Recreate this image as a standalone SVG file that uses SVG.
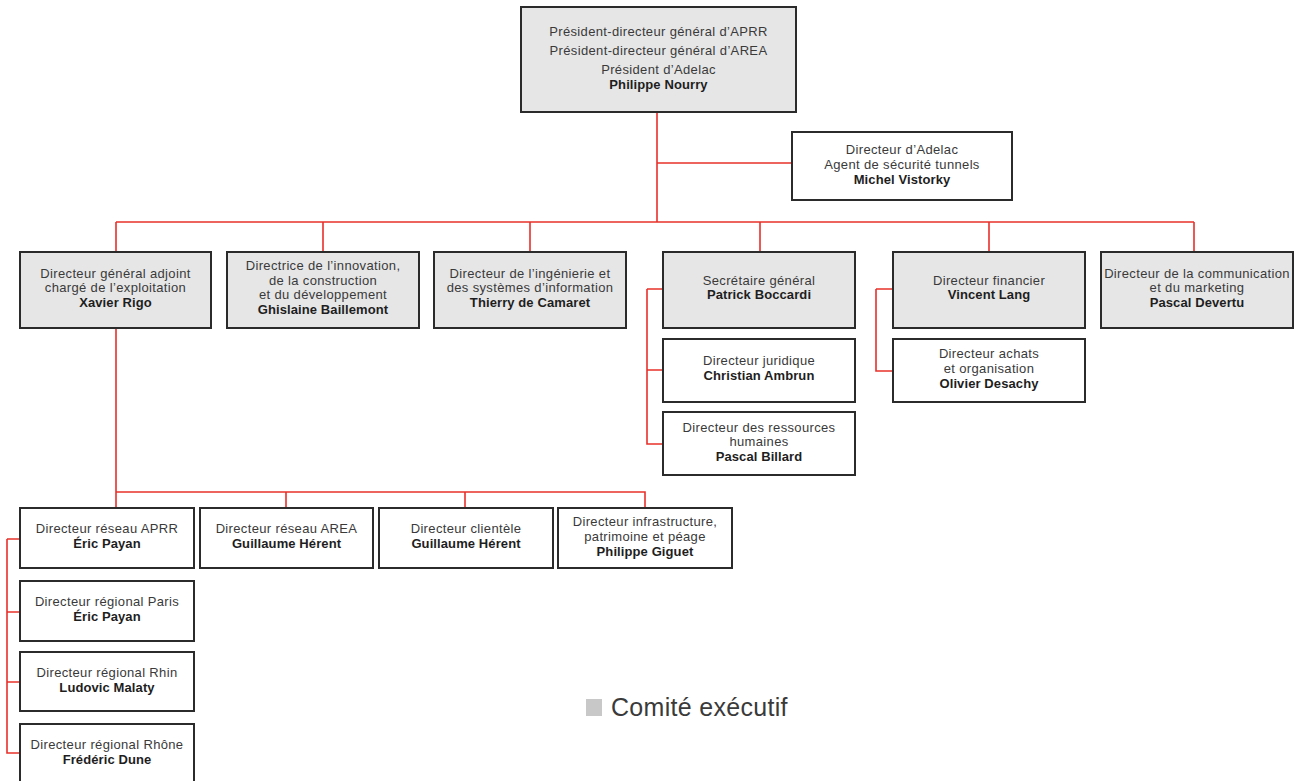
<svg xmlns="http://www.w3.org/2000/svg" width="1300" height="781" viewBox="0 0 1300 781">
<style>
.box{fill:#ffffff;stroke:#2b2b2b;stroke-width:2}
.exec{fill:#e6e6e6;stroke:#2b2b2b;stroke-width:2}
.t{font-family:"Liberation Sans","DejaVu Sans",sans-serif;font-size:13px;letter-spacing:0.35px;fill:#3a3a3a;text-anchor:middle}
.b{font-weight:bold;fill:#1e1e1e;letter-spacing:0.1px}
.c{fill:none;stroke:#e8302a;stroke-width:1.6}
</style>
<rect width="1300" height="781" fill="#ffffff"/>
<g id="connectors">
<path class="c" d="M657 112V222M657 163H792"/>
<path class="c" d="M116 222H1194M116 222V252M323 222V252M530 222V252M760 222V252M989 222V252M1194 222V252"/>
<path class="c" d="M647 289H663M647 289V444H663M647 370H663"/>
<path class="c" d="M876 289H893M876 289V371H893"/>
<path class="c" d="M116 328V492M116 492H645V508M116 492V508M286 492V508M465 492V508"/>
<path class="c" d="M7 539H20M7 539V753H20M7 612H20M7 682H20"/>
</g>
<g id="pdg">
<rect class="exec" x="521" y="7" width="275" height="105"/>
<text class="t" x="658.5" y="36">Président-directeur général d’APRR</text>
<text class="t" x="658.5" y="55">Président-directeur général d’AREA</text>
<text class="t" x="658.5" y="74">Président d’Adelac</text>
<text class="t b" x="658.5" y="89">Philippe Nourry</text>
</g>
<g id="adelac">
<rect class="box" x="792" y="132" width="220" height="68"/>
<text class="t" x="902" y="154">Directeur d’Adelac</text>
<text class="t" x="902" y="169">Agent de sécurité tunnels</text>
<text class="t b" x="902" y="184">Michel Vistorky</text>
</g>
<g id="dga">
<rect class="exec" x="20" y="252" width="191" height="76"/>
<text class="t" x="115.5" y="278">Directeur général adjoint</text>
<text class="t" x="115.5" y="292">chargé de l’exploitation</text>
<text class="t b" x="115.5" y="307">Xavier Rigo</text>
</g>
<g id="innovation">
<rect class="exec" x="227" y="252" width="192" height="76"/>
<text class="t" x="323" y="270">Directrice de l’innovation,</text>
<text class="t" x="323" y="285">de la construction</text>
<text class="t" x="323" y="299">et du développement</text>
<text class="t b" x="323" y="314">Ghislaine Baillemont</text>
</g>
<g id="ingenierie">
<rect class="exec" x="434" y="252" width="192" height="76"/>
<text class="t" x="530" y="278">Directeur de l’ingénierie et</text>
<text class="t" x="530" y="292">des systèmes d’information</text>
<text class="t b" x="530" y="307">Thierry de Camaret</text>
</g>
<g id="secretaire">
<rect class="exec" x="663" y="252" width="192" height="76"/>
<text class="t" x="759" y="285">Secrétaire général</text>
<text class="t b" x="759" y="299">Patrick Boccardi</text>
</g>
<g id="financier">
<rect class="exec" x="893" y="252" width="192" height="76"/>
<text class="t" x="989" y="285">Directeur financier</text>
<text class="t b" x="989" y="299">Vincent Lang</text>
</g>
<g id="communication">
<rect class="exec" x="1101" y="252" width="192" height="76"/>
<text class="t" x="1197" y="278">Directeur de la communication</text>
<text class="t" x="1197" y="292">et du marketing</text>
<text class="t b" x="1197" y="307">Pascal Devertu</text>
</g>
<g id="juridique">
<rect class="box" x="663" y="339" width="192" height="63"/>
<text class="t" x="759" y="365">Directeur juridique</text>
<text class="t b" x="759" y="380">Christian Ambrun</text>
</g>
<g id="rh">
<rect class="box" x="663" y="412" width="192" height="63"/>
<text class="t" x="759" y="432">Directeur des ressources</text>
<text class="t" x="759" y="446">humaines</text>
<text class="t b" x="759" y="461">Pascal Billard</text>
</g>
<g id="achats">
<rect class="box" x="893" y="339" width="192" height="63"/>
<text class="t" x="989" y="358">Directeur achats</text>
<text class="t" x="989" y="373">et organisation</text>
<text class="t b" x="989" y="388">Olivier Desachy</text>
</g>
<g id="reseau-aprr">
<rect class="box" x="20" y="508" width="174" height="60"/>
<text class="t" x="107" y="533">Directeur réseau APRR</text>
<text class="t b" x="107" y="548">Éric Payan</text>
</g>
<g id="reseau-area">
<rect class="box" x="200" y="508" width="173" height="60"/>
<text class="t" x="286.5" y="533">Directeur réseau AREA</text>
<text class="t b" x="286.5" y="548">Guillaume Hérent</text>
</g>
<g id="clientele">
<rect class="box" x="379" y="508" width="174" height="60"/>
<text class="t" x="466" y="533">Directeur clientèle</text>
<text class="t b" x="466" y="548">Guillaume Hérent</text>
</g>
<g id="infrastructure">
<rect class="box" x="558" y="508" width="174" height="60"/>
<text class="t" x="645" y="526">Directeur infrastructure,</text>
<text class="t" x="645" y="541">patrimoine et péage</text>
<text class="t b" x="645" y="556">Philippe Giguet</text>
</g>
<g id="paris">
<rect class="box" x="20" y="581" width="174" height="60"/>
<text class="t" x="107" y="606">Directeur régional Paris</text>
<text class="t b" x="107" y="621">Éric Payan</text>
</g>
<g id="rhin">
<rect class="box" x="20" y="652" width="174" height="59"/>
<text class="t" x="107" y="677">Directeur régional Rhin</text>
<text class="t b" x="107" y="692">Ludovic Malaty</text>
</g>
<g id="rhone">
<rect class="box" x="20" y="724" width="174" height="62"/>
<text class="t" x="107" y="749">Directeur régional Rhône</text>
<text class="t b" x="107" y="764">Frédéric Dune</text>
</g>
<g id="legend">
<rect x="586" y="699" width="16" height="17" fill="#c8c8c8"/>
<text x="611" y="716" style="font-family:'Liberation Sans','DejaVu Sans',sans-serif;font-size:25px;letter-spacing:0.3px;fill:#3a3a3a">Comité exécutif</text>
</g>
</svg>
